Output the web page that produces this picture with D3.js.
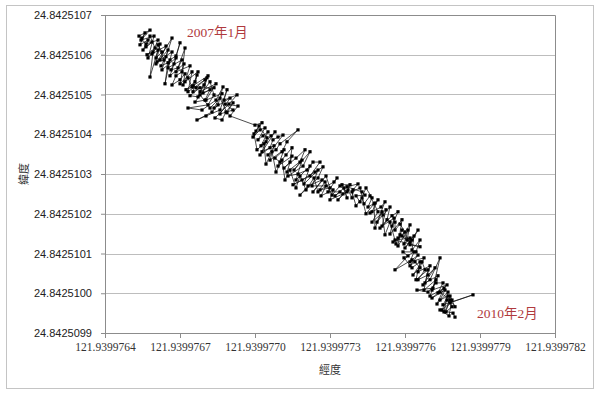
<!DOCTYPE html>
<html>
<head>
<meta charset="utf-8">
<script src="https://cdn.jsdelivr.net/npm/d3@7/dist/d3.min.js"></script>
<style>
  body { margin: 0; background: #fff; }
  svg { display: block; }
</style>
</head>
<body>
<div id="chart"></div>
<script>
// GPS track, Jan 2007 -> Feb 2010 (longitude / latitude, degrees)
var lon = [
  121.939976548, 121.939976560, 121.939976540, 121.939976572, 121.939976552, 121.939976588, 121.939976564, 121.939976580,
  121.939976600, 121.939976568, 121.939976592, 121.939976580, 121.939976612, 121.939976604, 121.939976628, 121.939976612,
  121.939976636, 121.939976608, 121.939976668, 121.939976644, 121.939976624, 121.939976652, 121.939976640, 121.939976660,
  121.939976684, 121.939976700, 121.939976676, 121.939976664, 121.939976692, 121.939976720, 121.939976708, 121.939976684,
  121.939976668, 121.939976700, 121.939976720, 121.939976712, 121.939976732, 121.939976748, 121.939976724, 121.939976760,
  121.939976768, 121.939976752, 121.939976780, 121.939976740, 121.939976772, 121.939976796, 121.939976808, 121.939976792,
  121.939976820, 121.939976800, 121.939976760, 121.939976820, 121.939976836, 121.939976812, 121.939976732, 121.939976788,
  121.939976844, 121.939976872, 121.939976852, 121.939976828, 121.939976768, 121.939976804, 121.939976860, 121.939976888,
  121.939976876, 121.939976928, 121.939976896, 121.939976840, 121.939976868, 121.939976884, 121.939976912, 121.939976888,
  121.939976860, 121.939976820, 121.939976780, 121.939976836, 121.939976764, 121.939976800, 121.939976732, 121.939976748,
  121.939976700, 121.939976716, 121.939976660, 121.939976684, 121.939976628, 121.939976652, 121.939976604, 121.939976620,
  121.939976572, 121.939976596, 121.939976544, 121.939976580, 121.939976536, 121.939976564, 121.939976612, 121.939976588,
  121.939976644, 121.939976620, 121.939976668, 121.939976652, 121.939976708, 121.939976684, 121.939976740, 121.939976720,
  121.939976772, 121.939976752, 121.939976812, 121.939976780, 121.939976844, 121.939976804, 121.939976868, 121.939976836,
  121.939976900, 121.939976860, 121.939976912, 121.939976880, 121.939976932, 121.939976900,
  121.939977000, 121.939977028, 121.939977004, 121.939976992, 121.939977020, 121.939977040, 121.939977012, 121.939977032,
  121.939977052, 121.939977024, 121.939977044, 121.939977064, 121.939977080, 121.939977020, 121.939977060, 121.939977072,
  121.939977092, 121.939977112, 121.939977052, 121.939977084, 121.939977100, 121.939977172, 121.939977128, 121.939977108,
  121.939977080, 121.939977100, 121.939977124, 121.939977148, 121.939977140, 121.939977116, 121.939977164, 121.939977200,
  121.939977180, 121.939977156, 121.939977220, 121.939977192, 121.939977132, 121.939977172, 121.939977208, 121.939977232,
  121.939977260, 121.939977220, 121.939977152, 121.939977188, 121.939977240, 121.939977272, 121.939977252, 121.939977180,
  121.939977212, 121.939977268, 121.939977232, 121.939977284, 121.939977300, 121.939977260, 121.939977316, 121.939977328,
  121.939977292, 121.939977340, 121.939977320, 121.939977356, 121.939977368, 121.939977348, 121.939977380, 121.939977368,
  121.939977340, 121.939977308, 121.939977280, 121.939977252, 121.939977236, 121.939977204, 121.939977180, 121.939977164,
  121.939977140, 121.939977120, 121.939977108, 121.939977084, 121.939977068, 121.939977044, 121.939977036, 121.939977008,
  121.939976996, 121.939977016, 121.939977048, 121.939977028, 121.939977076, 121.939977060, 121.939977116, 121.939977092,
  121.939977148, 121.939977128, 121.939977188, 121.939977164, 121.939977220, 121.939977196, 121.939977252, 121.939977228,
  121.939977284, 121.939977264, 121.939977312, 121.939977300, 121.939977352, 121.939977332, 121.939977372, 121.939977388,
  121.939977392, 121.939977412, 121.939977368, 121.939977428, 121.939977440, 121.939977404, 121.939977420, 121.939977444,
  121.939977468, 121.939977452, 121.939977480, 121.939977492, 121.939977468, 121.939977460, 121.939977504, 121.939977520,
  121.939977488, 121.939977512, 121.939977540, 121.939977528, 121.939977500, 121.939977548, 121.939977572, 121.939977548,
  121.939977560, 121.939977560, 121.939977580, 121.939977600, 121.939977572, 121.939977552, 121.939977588, 121.939977620,
  121.939977608, 121.939977580, 121.939977628, 121.939977600, 121.939977652, 121.939977620, 121.939977660, 121.939977560,
  121.939977620,
  121.939977620, 121.939977588, 121.939977564, 121.939977540, 121.939977520, 121.939977508, 121.939977480, 121.939977476,
  121.939977444, 121.939977428, 121.939977404, 121.939977388, 121.939977420, 121.939977436, 121.939977460, 121.939977492,
  121.939977468, 121.939977524, 121.939977508, 121.939977556, 121.939977540, 121.939977588, 121.939977572, 121.939977612,
  121.939977596, 121.939977636, 121.939977628, 121.939977660, 121.939977644,
  121.939977592, 121.939977612, 121.939977560, 121.939977628, 121.939977652, 121.939977620, 121.939977640,
  121.939977660, 121.939977632, 121.939977668, 121.939977680, 121.939977652, 121.939977692, 121.939977720, 121.939977672,
  121.939977700, 121.939977740, 121.939977712, 121.939977648, 121.939977692, 121.939977724, 121.939977752, 121.939977732,
  121.939977708, 121.939977760, 121.939977740, 121.939977772, 121.939977752, 121.939977872, 121.939977780, 121.939977748,
  121.939977768, 121.939977788, 121.939977764, 121.939977780, 121.939977800,
  121.939977780, 121.939977740, 121.939977768, 121.939977708, 121.939977732, 121.939977680, 121.939977700, 121.939977652,
  121.939977676, 121.939977620, 121.939977636, 121.939977596, 121.939977628, 121.939977660, 121.939977644, 121.939977692,
  121.939977676, 121.939977724, 121.939977700, 121.939977756, 121.939977728, 121.939977772, 121.939977756, 121.939977788,
  121.939977776,
  121.939977740, 121.939977792, 121.939977800
];
var lat = [
  24.842510642, 24.842510655, 24.842510625, 24.842510637, 24.842510612, 24.842510632, 24.842510620, 24.842510647,
  24.842510617, 24.842510600, 24.842510607, 24.842510544, 24.842510612, 24.842510592, 24.842510607, 24.842510625,
  24.842510587, 24.842510582, 24.842510642, 24.842510595, 24.842510572, 24.842510580, 24.842510527, 24.842510587,
  24.842510597, 24.842510630, 24.842510577, 24.842510562, 24.842510567, 24.842510617, 24.842510557, 24.842510547,
  24.842510524, 24.842510537, 24.842510552, 24.842510524, 24.842510542, 24.842510519, 24.842510512, 24.842510532,
  24.842510549, 24.842510507, 24.842510517, 24.842510497, 24.842510494, 24.842510524, 24.842510542, 24.842510504,
  24.842510512, 24.842510486, 24.842510481, 24.842510532, 24.842510499, 24.842510474, 24.842510466, 24.842510461,
  24.842510486, 24.842510519, 24.842510474, 24.842510456, 24.842510436, 24.842510446, 24.842510461, 24.842510512,
  24.842510486, 24.842510499, 24.842510476, 24.842510441, 24.842510436, 24.842510456, 24.842510479, 24.842510454,
  24.842510491, 24.842510466, 24.842510499, 24.842510517, 24.842510517, 24.842510537, 24.842510507, 24.842510557,
  24.842510527, 24.842510577, 24.842510547, 24.842510592, 24.842510562, 24.842510612, 24.842510577, 24.842510627,
  24.842510592, 24.842510647, 24.842510637, 24.842510662, 24.842510647, 24.842510627, 24.842510637, 24.842510602,
  24.842510622, 24.842510587, 24.842510607, 24.842510567, 24.842510587, 24.842510557, 24.842510572, 24.842510532,
  24.842510557, 24.842510522, 24.842510547, 24.842510507, 24.842510527, 24.842510486, 24.842510502, 24.842510466,
  24.842510491, 24.842510451, 24.842510461, 24.842510476, 24.842510471, 24.842510446,
  24.842510423, 24.842510429, 24.842510408, 24.842510393, 24.842510411, 24.842510416, 24.842510386, 24.842510396,
  24.842510406, 24.842510371, 24.842510381, 24.842510396, 24.842510406, 24.842510348, 24.842510366, 24.842510386,
  24.842510393, 24.842510398, 24.842510348, 24.842510361, 24.842510376, 24.842510411, 24.842510381, 24.842510356,
  24.842510340, 24.842510330, 24.842510348, 24.842510366, 24.842510330, 24.842510315, 24.842510340, 24.842510361,
  24.842510330, 24.842510310, 24.842510356, 24.842510320, 24.842510295, 24.842510300, 24.842510310, 24.842510330,
  24.842510330, 24.842510295, 24.842510273, 24.842510285, 24.842510305, 24.842510318, 24.842510290, 24.842510247,
  24.842510270, 24.842510285, 24.842510255, 24.842510295, 24.842510265, 24.842510260, 24.842510280, 24.842510290,
  24.842510255, 24.842510255, 24.842510245, 24.842510265, 24.842510240, 24.842510273, 24.842510273, 24.842510255,
  24.842510270, 24.842510247, 24.842510280, 24.842510255, 24.842510290, 24.842510260, 24.842510295, 24.842510265,
  24.842510310, 24.842510285, 24.842510335, 24.842510305, 24.842510356, 24.842510325, 24.842510376, 24.842510361,
  24.842510401, 24.842510421, 24.842510391, 24.842510356, 24.842510371, 24.842510335, 24.842510361, 24.842510320,
  24.842510345, 24.842510305, 24.842510335, 24.842510285, 24.842510320, 24.842510275, 24.842510310, 24.842510270,
  24.842510270, 24.842510245, 24.842510260, 24.842510235, 24.842510250, 24.842510235, 24.842510260, 24.842510240,
  24.842510260, 24.842510275, 24.842510268, 24.842510255, 24.842510247, 24.842510245, 24.842510230, 24.842510265,
  24.842510240, 24.842510217, 24.842510227, 24.842510235, 24.842510205, 24.842510202, 24.842510217, 24.842510230,
  24.842510179, 24.842510197, 24.842510217, 24.842510185, 24.842510164, 24.842510195, 24.842510205, 24.842510169,
  24.842510179, 24.842510159, 24.842510174, 24.842510154, 24.842510139, 24.842510129, 24.842510144, 24.842510172,
  24.842510134, 24.842510147, 24.842510134, 24.842510114, 24.842510159, 24.842510122, 24.842510117, 24.842510134,
  24.842510139,
  24.842510129, 24.842510159, 24.842510124, 24.842510179, 24.842510147, 24.842510205, 24.842510164, 24.842510225,
  24.842510200, 24.842510240, 24.842510220, 24.842510255, 24.842510265, 24.842510225, 24.842510245, 24.842510205,
  24.842510179, 24.842510210, 24.842510169, 24.842510189, 24.842510149, 24.842510185, 24.842510119, 24.842510159,
  24.842510124, 24.842510144, 24.842510109, 24.842510134, 24.842510104,
  24.842510104, 24.842510094, 24.842510059, 24.842510084, 24.842510096, 24.842510069, 24.842510079,
  24.842510064, 24.842510046, 24.842510079, 24.842510059, 24.842510034, 24.842510046, 24.842510064, 24.842510021,
  24.842510034, 24.842510089, 24.842510013, 24.842510008, 24.842510003, 24.842510026, 24.842510026, 24.842510001,
  24.842509988, 24.842510008, 24.842509983, 24.842509993, 24.842509971, 24.842509996, 24.842509976, 24.842509958,
  24.842509983, 24.842509966, 24.842509953, 24.842509993, 24.842509966,
  24.842509983, 24.842510003, 24.842510021, 24.842510008, 24.842510044, 24.842510026, 24.842510069, 24.842510054,
  24.842510089, 24.842510079, 24.842510104, 24.842510089, 24.842510064, 24.842510079, 24.842510034, 24.842510059,
  24.842510008, 24.842510034, 24.842509993, 24.842510013, 24.842509973, 24.842510003, 24.842509953, 24.842509983,
  24.842509943,
  24.842509958, 24.842509950, 24.842509940
];

var xTicks = ["121.9399764", "121.9399767", "121.9399770", "121.9399773", "121.9399776", "121.9399779", "121.9399782"];
var yTicks = ["24.8425099", "24.8425100", "24.8425101", "24.8425102", "24.8425103", "24.8425104", "24.8425105", "24.8425106", "24.8425107"];

var notes = [
  { text: "2007年1月", lon: 121.939976728, lat: 24.842510645 },
  { text: "2010年2月", lon: 121.939977888, lat: 24.842509938 }
];

var width = 600, height = 394;
var plot = { left: 105, top: 15, right: 555, bottom: 333 };

var svg = d3.select("#chart").append("svg")
    .attr("width", width)
    .attr("height", height);

// outer chart frame
svg.append("rect")
    .attr("x", 6.5).attr("y", 5.5)
    .attr("width", 587).attr("height", 383)
    .attr("fill", "#fff")
    .attr("stroke", "#c4c4c4");

var x = d3.scaleLinear()
    .domain([+xTicks[0], +xTicks[xTicks.length - 1]])
    .range([plot.left, plot.right]);

var y = d3.scaleLinear()
    .domain([+yTicks[0], +yTicks[yTicks.length - 1]])
    .range([plot.bottom, plot.top]);

// horizontal gridlines
svg.append("g").selectAll("line")
    .data(yTicks.slice(1))
    .enter().append("line")
    .attr("x1", plot.left).attr("x2", plot.right)
    .attr("y1", function(d) { return Math.round(y(+d)) + 0.5; })
    .attr("y2", function(d) { return Math.round(y(+d)) + 0.5; })
    .attr("stroke", "#bdbdbd")
    .attr("stroke-width", 1);

// plot area border (top/right)
svg.append("path")
    .attr("d", "M" + plot.left + "," + (plot.top + 0.5) + "H" + (plot.right + 0.5) + "V" + plot.bottom)
    .attr("fill", "none")
    .attr("stroke", "#8c8c8c");

var xAxis = d3.axisBottom(x)
    .tickValues(xTicks.map(Number))
    .tickFormat(function(d, i) { return xTicks[i]; })
    .tickSizeInner(5)
    .tickSizeOuter(0)
    .tickPadding(5);

var yAxis = d3.axisLeft(y)
    .tickValues(yTicks.map(Number))
    .tickFormat(function(d, i) { return yTicks[i]; })
    .tickSizeInner(4)
    .tickSizeOuter(0)
    .tickPadding(9);

var xAxisG = svg.append("g")
    .attr("transform", "translate(0," + plot.bottom + ")")
    .call(xAxis);
xAxisG.selectAll("text")
    .attr("font-family", "'Liberation Serif', 'Times New Roman', serif")
    .attr("font-size", 11.5)
    .attr("fill", "#333");

var yAxisG = svg.append("g")
    .attr("transform", "translate(" + plot.left + ",0)")
    .call(yAxis);
yAxisG.selectAll("text")
    .attr("font-family", "'Liberation Sans', Arial, sans-serif")
    .attr("font-size", 11)
    .attr("fill", "#222");

svg.selectAll(".domain").attr("stroke", "#8c8c8c");
svg.selectAll(".tick line").attr("stroke", "#8c8c8c");

// track line
var line = d3.line()
    .x(function(d) { return x(d[0]); })
    .y(function(d) { return y(d[1]); });

var pts = lon.map(function(d, i) { return [d, lat[i]]; });

svg.append("path")
    .datum(pts)
    .attr("d", line)
    .attr("fill", "none")
    .attr("stroke", "#111")
    .attr("stroke-width", 0.75);

svg.append("g").selectAll("rect")
    .data(pts)
    .enter().append("rect")
    .attr("x", function(d) { return x(d[0]) - 1.6; })
    .attr("y", function(d) { return y(d[1]) - 1.6; })
    .attr("width", 3.2)
    .attr("height", 3.2)
    .attr("fill", "#000");

// annotations
svg.append("g").selectAll("text")
    .data(notes)
    .enter().append("text")
    .attr("x", function(d) { return x(d.lon); })
    .attr("y", function(d) { return y(d.lat); })
    .attr("font-family", "'Liberation Serif', 'Noto Sans CJK TC', serif")
    .attr("font-size", 13.5)
    .attr("fill", "#b03a3e")
    .text(function(d) { return d.text; });

// axis titles
svg.append("text")
    .attr("x", 330).attr("y", 374)
    .attr("text-anchor", "middle")
    .attr("font-family", "'Noto Sans CJK TC', sans-serif")
    .attr("font-size", 11)
    .attr("fill", "#333")
    .text("經度");

svg.append("text")
    .attr("transform", "translate(28,174) rotate(-90)")
    .attr("text-anchor", "middle")
    .attr("font-family", "'Noto Sans CJK TC', sans-serif")
    .attr("font-size", 11)
    .attr("fill", "#333")
    .text("緯度");
</script>
</body>
</html>
